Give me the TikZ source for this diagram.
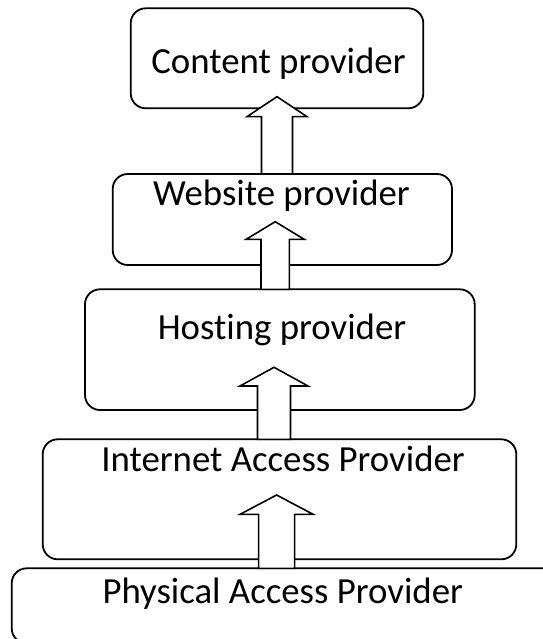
\documentclass[tikz,border=0pt]{standalone}
\usepackage{fontspec}
\setmainfont{Carlito}[Ligatures=NoCommon]
\usetikzlibrary{calc}

% hollow upward block arrow: #1 lower box, #2 tip, #3 half shaft width,
% #4 half head width, #5 head length
\newcommand\blockup[5]{%
  \draw[blockarrow]
    ($(#2 |- #1.north)+(-#3,0)$) -- ($(#2)+(-#3,#5)$) -- ($(#2)+(-#4,#5)$)
    -- (#2) -- ($(#2)+(#4,#5)$) -- ($(#2)+(#3,#5)$)
    -- ($(#2 |- #1.north)+(#3,0)$) -- cycle;}

\begin{document}
\begin{tikzpicture}[x=1pt,y=-1pt,
  layerbox/.style={draw=black,line width=1.8pt,rounded corners=15pt,
    rectangle,inner sep=0pt,outer sep=0pt,fill=white},
  layerlabel/.style={anchor=base,inner sep=0pt,
    font=\fontsize{36.8}{40}\selectfont},
  blockarrow/.style={draw=black,fill=white,line width=1.6pt,line join=miter}]
\useasboundingbox (0,0) rectangle (542,639);

% stacked layers, top to bottom
\node[layerbox,minimum width=292.6pt,minimum height=100pt] (content) at (277,58.3) {};
\node[layerbox,minimum width=339.3pt,minimum height=91pt] (web) at (282.35,219.5) {};
\node[layerbox,minimum width=389.7pt,minimum height=120.7pt] (host) at (279.85,349.65) {};
\node[layerbox,minimum width=473.6pt,minimum height=120pt] (iap) at (279.5,499.3) {};
\node[layerbox,minimum width=558.3pt,minimum height=75pt] (pap) at (290.85,605.8) {};

% arrow tips
\coordinate (t1) at (277,96.7);
\coordinate (t2) at (275.2,221.7);
\coordinate (t3) at (274,367.3);
\coordinate (t4) at (276.6,495);

\blockup{web}{t1}{15.5}{30}{20}
\blockup{host}{t2}{14.2}{29}{17.6}
\blockup{iap}{t3}{16.5}{34}{18.7}
\blockup{pap}{t4}{18}{36.5}{19.3}

% layer names
\node[layerlabel] (lcontent) at (278.5,74) {Content provider};
\node[layerlabel] (lweb) at (281.5,205) {Website provider};
\node[layerlabel] (lhost) at (282,339) {Hosting provider};
\node[layerlabel] (liap) at (283,471) {Internet Access Provider};
\node[layerlabel] (lpap) at (282.7,603) {Physical Access Provider};
\end{tikzpicture}
\end{document}
